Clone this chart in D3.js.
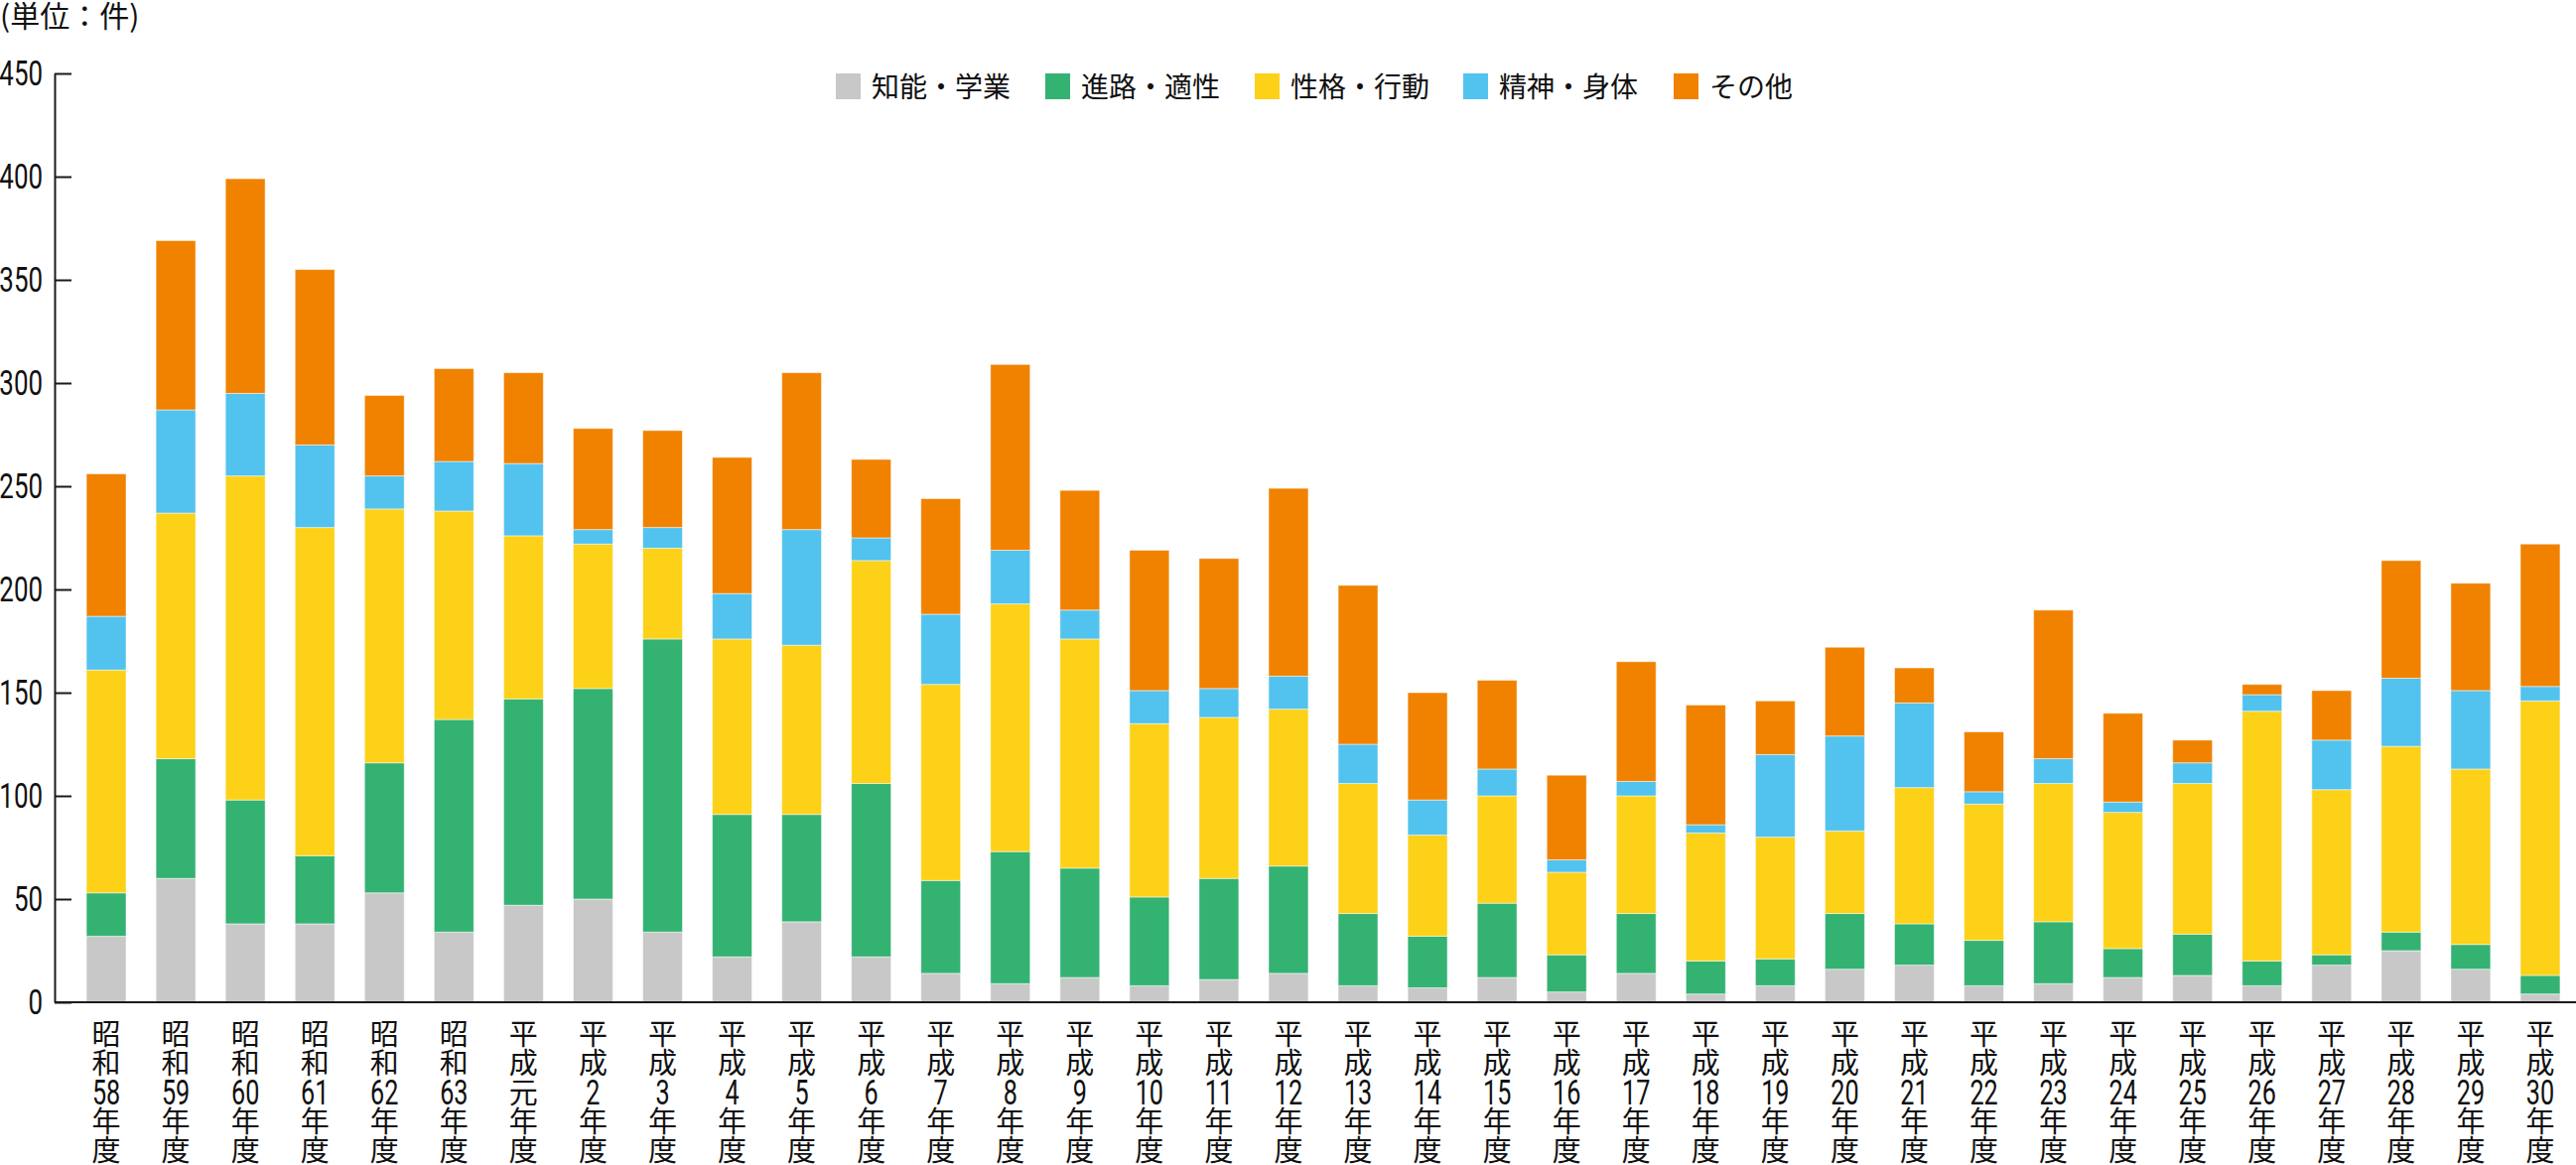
<!DOCTYPE html>
<html>
<head>
<meta charset="utf-8">
<script src="https://cdn.jsdelivr.net/npm/d3@7"></script>
<style>
  body { margin: 0; background: #fff; }
  svg { display: block; }
  .axis path, .axis line { stroke: #1a1a1a; stroke-width: 2; }
  .num { font-family: Roboto, "Liberation Sans", sans-serif; }
  .jp { font-family: "Noto Sans CJK JP", sans-serif; }
</style>
</head>
<body>
<script>
// 年度 labels, each split into the rows stacked under a bar
const years = [
  ["昭", "和", "58", "年", "度"], ["昭", "和", "59", "年", "度"], ["昭", "和", "60", "年", "度"],
  ["昭", "和", "61", "年", "度"], ["昭", "和", "62", "年", "度"], ["昭", "和", "63", "年", "度"],
  ["平", "成", "元", "年", "度"], ["平", "成", "2", "年", "度"], ["平", "成", "3", "年", "度"],
  ["平", "成", "4", "年", "度"], ["平", "成", "5", "年", "度"], ["平", "成", "6", "年", "度"],
  ["平", "成", "7", "年", "度"], ["平", "成", "8", "年", "度"], ["平", "成", "9", "年", "度"],
  ["平", "成", "10", "年", "度"], ["平", "成", "11", "年", "度"], ["平", "成", "12", "年", "度"],
  ["平", "成", "13", "年", "度"], ["平", "成", "14", "年", "度"], ["平", "成", "15", "年", "度"],
  ["平", "成", "16", "年", "度"], ["平", "成", "17", "年", "度"], ["平", "成", "18", "年", "度"],
  ["平", "成", "19", "年", "度"], ["平", "成", "20", "年", "度"], ["平", "成", "21", "年", "度"],
  ["平", "成", "22", "年", "度"], ["平", "成", "23", "年", "度"], ["平", "成", "24", "年", "度"],
  ["平", "成", "25", "年", "度"], ["平", "成", "26", "年", "度"], ["平", "成", "27", "年", "度"],
  ["平", "成", "28", "年", "度"], ["平", "成", "29", "年", "度"], ["平", "成", "30", "年", "度"]
];

const seriesNames = ["知能・学業", "進路・適性", "性格・行動", "精神・身体", "その他"];
const seriesColors = ["#c8c8c8", "#34b272", "#fcd118", "#52c2ee", "#f08200"];

const chinou = [32, 60, 38, 38, 53, 34, 47, 50, 34, 22, 39, 22, 14, 9, 12, 8, 11, 14,
  8, 7, 12, 5, 14, 4, 8, 16, 18, 8, 9, 12, 13, 8, 18, 25, 16, 4];
const shinro = [21, 58, 60, 33, 63, 103, 100, 102, 142, 69, 52, 84, 45, 64, 53, 43, 49, 52,
  35, 25, 36, 18, 29, 16, 13, 27, 20, 22, 30, 14, 20, 12, 5, 9, 12, 9];
const seikaku = [108, 119, 157, 159, 123, 101, 79, 70, 44, 85, 82, 108, 95, 120, 111, 84, 78, 76,
  63, 49, 52, 40, 57, 62, 59, 40, 66, 66, 67, 66, 73, 121, 80, 90, 85, 133];
const seishin = [26, 50, 40, 40, 16, 24, 35, 7, 10, 22, 56, 11, 34, 26, 14, 16, 14, 16,
  19, 17, 13, 6, 7, 4, 40, 46, 41, 6, 12, 5, 10, 8, 24, 33, 38, 7];
const sonota = [69, 82, 104, 85, 39, 45, 44, 49, 47, 66, 76, 38, 56, 90, 58, 68, 63, 91,
  77, 52, 43, 41, 58, 58, 26, 43, 17, 29, 72, 43, 11, 5, 24, 57, 52, 69];

const yTicks = [0, 50, 100, 150, 200, 250, 300, 350, 400, 450];

const W = 2595, H = 1174;
const axisX = 55, baseY = 1010;
const squeeze = 0.72; // digits in the original are a condensed face

const svg = d3.select("body").append("svg").attr("width", W).attr("height", H);

const keys = years.map((d) => d.join(""));
const rows = keys.map((k, i) => ({
  key: k, s0: chinou[i], s1: shinro[i], s2: seikaku[i], s3: seishin[i], s4: sonota[i]
}));
const stack = d3.stack().keys(["s0", "s1", "s2", "s3", "s4"])(rows);

const x = d3.scaleBand().domain(keys).range([72, 2594])
  .paddingInner(0.43).paddingOuter(0.215);
const y = d3.scaleLinear().domain([0, 450]).range([baseY, 74]);

// bars
svg.append("g").selectAll("g")
  .data(stack)
  .join("g")
  .attr("fill", (d, i) => seriesColors[i])
  .selectAll("rect")
  .data((d) => d)
  .join("rect")
  .attr("x", (d) => x(d.data.key))
  .attr("width", x.bandwidth())
  .attr("y", (d) => y(d[1]))
  .attr("height", (d) => y(d[0]) - y(d[1]))
  .attr("stroke", "#fff")
  .attr("stroke-opacity", 0.5)
  .attr("stroke-width", 1);

// y axis, ticks pointing inward
const yAxis = d3.axisLeft(y).tickValues(yTicks).tickSizeInner(-17).tickSizeOuter(0).tickPadding(12);
const gy = svg.append("g").attr("class", "axis")
  .attr("transform", `translate(${axisX},0)`)
  .call(yAxis);
gy.selectAll("text")
  .attr("class", "num")
  .attr("font-size", 36)
  .attr("fill", "#111")
  .attr("x", -12 / squeeze)
  .attr("transform", `scale(${squeeze},1)`);

// x axis: base line across, labels stacked vertically
svg.append("line")
  .attr("x1", axisX).attr("x2", W).attr("y1", baseY).attr("y2", baseY)
  .attr("stroke", "#1a1a1a").attr("stroke-width", 2);

const xAxis = d3.axisBottom(x).tickSize(0).tickFormat("");
const gx = svg.append("g").attr("transform", `translate(0,${baseY})`).call(xAxis);
gx.select(".domain").remove();

gx.selectAll(".tick").each(function (k, i) {
  const g = d3.select(this);
  years[i].forEach((part, j) => {
    const isNum = /^[0-9]+$/.test(part);
    const t = g.append("text")
      .attr("fill", "#111")
      .attr("text-anchor", "middle")
      .attr("y", 43 + j * 29.3)
      .attr("class", isNum ? "num" : "jp")
      .attr("font-size", isNum ? 35 : 29)
      .text(part);
    if (isNum) t.attr("transform", `scale(${squeeze},1)`).attr("y", 44 + j * 29.3);
  });
});

// unit label
svg.append("text").attr("class", "jp")
  .attr("x", 0).attr("y", 27)
  .attr("font-size", 30).attr("fill", "#111")
  .text("(単位：件)");

// legend
const legendX = [842, 1053, 1264, 1474, 1686];
const legend = svg.append("g").selectAll("g")
  .data(seriesNames)
  .join("g")
  .attr("transform", (d, i) => `translate(${legendX[i]},74)`);
legend.append("rect").attr("width", 25).attr("height", 26)
  .attr("fill", (d, i) => seriesColors[i]);
legend.append("text").attr("class", "jp")
  .attr("x", 36).attr("y", 24)
  .attr("font-size", 28).attr("fill", "#111")
  .text((d) => d);
</script>
</body>
</html>
